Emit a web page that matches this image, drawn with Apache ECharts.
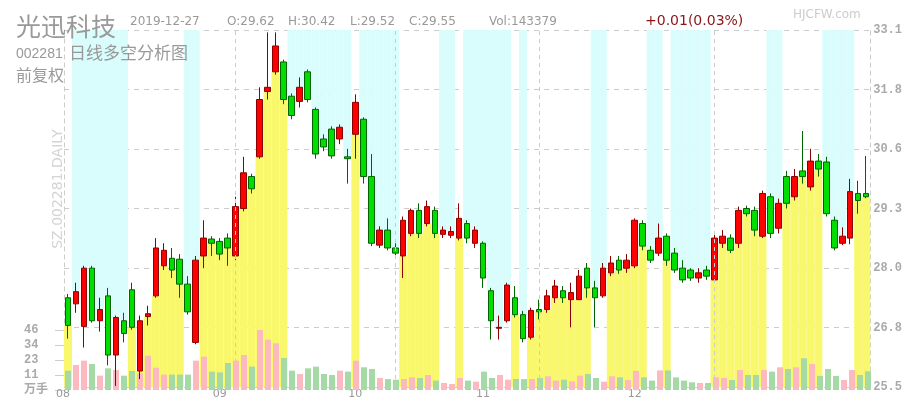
<!DOCTYPE html>
<html><head><meta charset="utf-8">
<script src="https://cdn.jsdelivr.net/npm/echarts@6/dist/echarts.min.js"></script>
<style>html,body{margin:0;padding:0;background:#fff}#c{width:905px;height:400px}</style>
</head><body><div id="c"></div>
<script>
// trading days (2019)
const augDays=[1,2,5,6,7,8,9,12,13,14,15,16,19,20,21,22,23,26,27,28,29,30];
const sepDays=[2,3,4,5,6,9,10,11,12,16,17,18,19,20,23,24,25,26,27,30];
const octDays=[8,9,10,11,14,15,16,17,18,21,22,23,24,25,28,29,30,31];
const novDays=[1,4,5,6,7,8,11,12,13,14,15,18,19,20,21,22,25,26,27,28,29];
const decDays=[2,3,4,5,6,9,10,11,12,13,16,17,18,19,20,23,24,25,26,27];
const pad=d=>(d<10?'0':'')+d;
const dates=[].concat(
  augDays.map(d=>'2019-08-'+pad(d)),sepDays.map(d=>'2019-09-'+pad(d)),
  octDays.map(d=>'2019-10-'+pad(d)),novDays.map(d=>'2019-11-'+pad(d)),
  decDays.map(d=>'2019-12-'+pad(d)));

// [open, close, low, high]
const ohlc=[
[27.40,26.81,26.53,27.48],[27.27,27.53,27.08,27.72],[26.79,28.03,26.34,28.08],[28.03,26.91,26.87,28.08],
[26.91,27.15,26.68,27.40],[27.44,26.18,25.96,27.61],[26.18,26.98,25.52,27.02],[26.91,26.64,26.45,27.08],
[27.57,26.77,26.72,27.72],[25.84,26.91,25.67,27.02],[27.00,27.06,26.81,27.23],[27.44,28.46,27.40,28.67],
[28.08,28.41,27.99,28.56],[28.24,27.99,27.82,28.46],[28.22,27.69,27.40,28.33],[27.69,27.10,27.04,27.86],
[26.45,28.20,26.41,28.29],[28.29,28.67,28.03,29.05],[28.65,28.56,28.29,28.71],[28.60,28.33,28.20,28.67],
[28.67,28.46,28.08,28.77],[28.29,29.34,28.20,29.55],[29.30,30.06,29.24,30.40],[29.98,29.72,29.62,30.04],
[30.40,31.62,30.36,31.88],[31.79,31.88,31.62,33.05],[32.21,32.76,32.15,33.05],[32.42,31.62,31.52,32.47],
[31.69,31.28,31.20,31.75],[31.58,31.88,31.45,32.09],[32.21,31.62,31.56,32.26],[31.41,30.46,30.36,31.45],
[30.78,30.61,30.52,30.88],[30.99,30.42,30.36,31.05],[30.78,31.03,30.67,31.09],[30.40,30.36,29.83,30.57],
[30.88,31.56,30.36,31.73],[31.20,29.98,29.83,31.24],[29.98,28.56,28.50,30.46],[28.52,28.84,28.46,28.92],
[28.84,28.46,28.41,29.09],[28.46,28.35,28.29,28.56],[28.29,29.05,27.82,29.13],[28.77,29.26,28.71,29.30],
[29.26,28.77,28.67,29.41],[28.98,29.34,28.92,29.47],[29.26,28.77,28.67,29.34],[28.75,28.84,28.67,28.92],
[28.73,28.81,28.67,28.92],[28.67,29.09,28.62,29.41],[28.98,28.67,28.56,29.05],[28.56,28.84,28.46,28.92],
[28.56,27.82,27.61,28.60],[27.55,26.91,26.51,27.61],[26.75,26.77,26.51,27.02],[26.91,27.67,26.87,27.72],
[27.40,27.04,26.98,27.65],[27.04,26.53,26.45,27.12],[26.56,27.13,26.51,27.19],[27.15,27.10,26.94,27.36],
[27.15,27.44,27.08,27.57],[27.40,27.65,27.29,27.78],[27.55,27.40,27.29,27.65],[27.36,27.51,26.77,27.72],
[27.36,27.86,27.36,27.99],[28.03,27.61,27.40,28.14],[27.61,27.40,26.77,27.76],[27.44,28.03,27.40,28.14],
[27.93,28.14,27.86,28.29],[28.20,27.99,27.91,28.29],[28.03,28.20,27.93,28.33],[28.08,29.05,28.03,29.09],
[28.98,28.50,28.41,29.05],[28.41,28.20,28.14,28.50],[28.35,28.67,28.29,28.98],[28.71,28.20,28.08,28.77],
[28.35,27.99,27.93,28.46],[28.03,27.78,27.72,28.20],[27.99,27.82,27.76,28.03],[27.82,27.93,27.72,28.03],
[27.99,27.86,27.78,28.08],[27.78,28.67,27.72,28.77],[28.56,28.71,28.46,28.84],[28.67,28.41,28.35,28.75],
[28.56,29.26,28.46,29.34],[29.30,29.19,29.13,29.36],[29.26,28.84,28.71,29.34],[28.71,29.62,28.67,29.68],
[29.55,28.77,28.67,29.62],[28.88,29.41,28.77,29.51],[29.98,29.41,29.30,30.10],[29.55,29.98,29.47,30.14],
[30.10,29.98,29.83,30.95],[29.76,30.31,29.68,30.57],[30.31,30.14,29.98,30.46],[30.29,29.19,29.13,30.40],
[29.05,28.46,28.41,29.13],[28.56,28.71,28.52,28.90],[28.67,29.66,28.54,29.93],[29.62,29.47,29.19,29.89],
[29.62,29.55,29.52,30.42]];

// volume, 万手
const volume=[14.8,19.2,22.5,19.9,11.0,16.6,15.3,11.0,14.6,12.8,26.3,17.1,11.8,11.8,11.8,11.8,22.5,25.6,14.0,13.5,
20.7,22.5,26.8,17.9,46.0,38.6,35.8,24.5,14.8,12.3,16.6,17.9,12.3,11.5,14.8,14.1,22.5,17.4,16.1,9.2,
8.4,7.9,8.4,9.7,9.2,11.5,7.2,5.4,4.6,9.2,7.2,6.4,14.1,9.2,11.5,7.9,8.4,8.4,8.4,9.2,
10.5,7.2,7.9,6.6,11.0,12.3,9.2,6.4,10.5,9.7,7.7,14.6,9.7,7.2,15.0,15.0,9.7,7.2,5.9,5.4,
5.4,9.7,9.2,7.7,15.3,11.5,11.5,15.3,14.1,17.4,16.1,17.4,24.3,19.9,10.8,16.1,10.8,7.7,15.3,11.5,14.34];

// 1 = 多 (yellow from bottom), -1 = 空 (cyan from top)
const zone=[1,-1,-1,-1,-1,-1,-1,-1,1,1,1,1,1,1,1,-1,-1,1,1,1,1,1,1,1,1,1,1,1,
-1,-1,-1,-1,-1,-1,-1,-1,1,-1,-1,-1,-1,-1,1,1,1,1,1,-1,-1,1,-1,-1,-1,-1,-1,-1,1,-1,
1,1,1,1,1,1,1,1,-1,-1,1,1,1,1,1,-1,-1,1,-1,-1,-1,-1,-1,1,1,1,1,1,1,1,-1,-1,
1,1,1,1,1,-1,-1,-1,-1,1,1];

const monthLabelIdx=[0,19,36,52,71];
const monthLabelText=['08','09','10','11','12'];
const monthLineIdx=[21,41,59,81];
const priceMin=25.5, priceMax=33.1, priceSplits=6;
const volMax=46, volSplits=4;

const YEL='#f9f76b', CYA='#d9fcfc';
const chart=echarts.init(document.getElementById('c'));
const pInt=(priceMax-priceMin)/priceSplits;

const zoneData=zone.map((z,i)=>{const o=ohlc[i][0],c=ohlc[i][1];return [i,z,z>0?Math.min(o,c):Math.max(o,c)];});
const volData=volume.map((v,i)=>({value:v,itemStyle:{color:ohlc[i][1]>=ohlc[i][0]?'#fcb9c0':'#a5d9a5'}}));

const gray='#999';
const T=(x,y,text,font,fill,extra)=>Object.assign({type:'text',x:x,y:y,z:100,silent:true,
  style:{text:text,fill:fill||gray,font:font,verticalAlign:'middle'}},extra||{});
chart.setOption({
  animation:false,
  backgroundColor:'#fff',
  grid:[{left:64,right:33,top:30,bottom:10},{left:64,right:33,top:330,height:60}],
  xAxis:[
    {type:'category',gridIndex:0,data:dates,boundaryGap:true,
     axisLine:{show:false},axisTick:{show:false},splitLine:{show:false},
     axisLabel:{show:true,interval:(i)=>monthLabelIdx.indexOf(i)>=0,
       formatter:(v,i)=>{const k=monthLabelIdx.indexOf(i);if(k<0)return '';return k===0?'{f|'+monthLabelText[k]+'}':monthLabelText[k];},
       rich:{f:{color:gray,fontSize:11,fontFamily:'DejaVu Sans',padding:[0,10,0,0]}},
       color:gray,fontSize:11,fontFamily:'DejaVu Sans',margin:2}},
    {type:'category',gridIndex:1,data:dates,boundaryGap:true,show:false}
  ],
  yAxis:[
    {type:'value',gridIndex:0,position:'right',min:priceMin,max:priceMin+pInt*priceSplits,interval:pInt,
     axisLine:{show:true,lineStyle:{color:'#ccc',type:[4,4]}},axisTick:{show:false},
     splitLine:{show:true,lineStyle:{color:'#ccc',type:[5,5]}},
     axisLabel:{formatter:v=>v.toFixed(1),color:'#aaa',fontSize:12,fontFamily:'Liberation Mono',fontWeight:'bold',margin:3}},
    {type:'value',gridIndex:1,position:'left',min:0,max:volMax,interval:volMax/volSplits,
     axisLine:{show:false},axisTick:{show:true,length:9,lineStyle:{color:'#ccc'}},splitLine:{show:false},
     axisLabel:{formatter:v=>v===0?'万手':String(Math.floor(v)),color:'#aaa',fontSize:12,
       fontFamily:'Liberation Mono, Noto Sans CJK SC',fontWeight:'bold',align:'left',margin:40}},
    {type:'value',gridIndex:0,position:'left',min:priceMin,max:priceMin+pInt*priceSplits,
     axisLine:{show:true,lineStyle:{color:'#ccc',type:[4,4]}},axisTick:{show:false},
     axisLabel:{show:false},splitLine:{show:false}}
  ],
  series:[
    {type:'line',xAxisIndex:0,yAxisIndex:0,data:[],z:1,silent:true,
     markLine:{symbol:'none',silent:true,label:{show:false},lineStyle:{color:'#ccc',type:[4,4],width:1},
       data:monthLineIdx.map(i=>({xAxis:i}))}},
    {type:'custom',xAxisIndex:0,yAxisIndex:0,z:2,silent:true,data:zoneData,encode:{x:0,y:2},
     renderItem:(params,api)=>{
       const i=api.value(0),t=api.value(1),lvl=api.value(2);
       const p=api.coord([i,lvl]);const w=api.size([1,0])[0];
       const cs=params.coordSys;
       let y0,y1;
       if(t>0){y0=p[1];y1=cs.y+cs.height;}else{y0=cs.y;y1=p[1];}
       return {type:'rect',shape:{x:p[0]-w/2,y:y0,width:w,height:y1-y0},style:{fill:t>0?YEL:CYA}};
     }},
    {type:'bar',xAxisIndex:1,yAxisIndex:1,data:volData,barWidth:6,z:3,silent:true},
    {type:'candlestick',xAxisIndex:0,yAxisIndex:0,data:ohlc,barWidth:6,z:4,silent:true,
     itemStyle:{color:'#ff0000',color0:'#00dd00',borderColor:'#8b0000',borderColor0:'#006400',borderWidth:1}}
  ],
  graphic:[
    T(16,26,'光迅科技','25px "Noto Sans CJK SC"'),
    T(130,22,'2019-12-27','12px "DejaVu Sans"'),
    T(227,22,'O:29.62','12px "DejaVu Sans"'),
    T(288,22,'H:30.42','12px "DejaVu Sans"'),
    T(350,22,'L:29.52','12px "DejaVu Sans"'),
    T(409,22,'C:29.55','12px "DejaVu Sans"'),
    T(489,22,'Vol:143379','12px "DejaVu Sans"'),
    T(645,21,'+0.01(0.03%)','14px "DejaVu Sans"','#8b1414'),
    T(793,15,'HJCFW.com','12px "DejaVu Sans"','#ccc'),
    T(16,54,'002281','14px "Liberation Sans"'),
    T(69,53,'日线多空分析图','17px "Noto Sans CJK SC"'),
    T(16,75,'前复权','16px "Noto Sans CJK SC"'),
    {type:'text',x:58,y:189,z:100,silent:true,rotation:Math.PI/2,
     style:{text:'SZ.002281.DAILY',fill:'#d4d4d4',font:'14px "DejaVu Sans"',align:'center',verticalAlign:'middle'}}
  ]
});
</script></body></html>
